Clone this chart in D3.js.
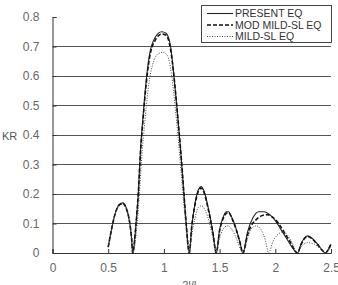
<!DOCTYPE html>
<html><head><meta charset="utf-8">
<script src="https://cdn.jsdelivr.net/npm/d3@7"></script>
<style>body{margin:0;background:#fff}svg{display:block}</style>
</head><body>
<script>
// ---- data ----
const xTicks = [0, 0.5, 1, 1.5, 2, 2.5];
const yTicks = [0, 0.1, 0.2, 0.3, 0.4, 0.5, 0.6, 0.7, 0.8];
const seriesNames = ["PRESENT EQ", "MOD MILD-SL EQ", "MILD-SL EQ"];
const presentX = [0.5,0.53,0.56,0.6,0.63,0.66,0.69,0.71,0.72,0.75,0.77,0.79,0.81,0.84,0.87,0.92,0.98,1.02,1.06,1.09,1.12,1.15,1.18,1.2,1.228,1.25,1.28,1.31,1.335,1.36,1.4,1.44,1.47,1.5,1.53,1.56,1.58,1.61,1.65,1.68,1.71,1.75,1.8,1.85,1.9,1.95,2.0,2.05,2.1,2.15,2.2,2.23,2.26,2.29,2.33,2.38,2.42,2.45,2.48,2.5];
const presentY = [0.02,0.08,0.13,0.165,0.17,0.155,0.11,0.05,0,0.1,0.2,0.35,0.45,0.58,0.67,0.73,0.75,0.745,0.7,0.6,0.48,0.35,0.2,0.1,0,0.09,0.17,0.215,0.225,0.21,0.15,0.07,0,0.08,0.12,0.14,0.14,0.12,0.08,0.04,0,0.07,0.12,0.14,0.14,0.13,0.11,0.08,0.05,0.02,0,0.03,0.05,0.058,0.05,0.03,0.01,0,0.015,0.03];
const modX = [0.5,0.53,0.56,0.6,0.63,0.66,0.69,0.71,0.72,0.75,0.77,0.79,0.81,0.84,0.87,0.92,0.98,1.02,1.06,1.09,1.12,1.15,1.18,1.2,1.228,1.25,1.28,1.31,1.335,1.36,1.4,1.44,1.47,1.5,1.53,1.56,1.58,1.61,1.65,1.68,1.71,1.75,1.78,1.82,1.87,1.93,1.98,2.03,2.08,2.13,2.2,2.23,2.26,2.29,2.33,2.38,2.42,2.45,2.48,2.5];
const modY = [0.02,0.08,0.13,0.163,0.168,0.153,0.11,0.05,0,0.1,0.2,0.34,0.44,0.57,0.66,0.72,0.742,0.738,0.69,0.6,0.48,0.35,0.2,0.1,0,0.09,0.165,0.21,0.22,0.205,0.145,0.068,0,0.075,0.115,0.135,0.137,0.118,0.078,0.04,0,0.06,0.09,0.11,0.125,0.13,0.12,0.1,0.07,0.04,0,0.028,0.048,0.056,0.048,0.028,0.01,0,0.015,0.03];
const mildX = [0.5,0.53,0.56,0.6,0.63,0.66,0.69,0.71,0.72,0.76,0.78,0.8,0.83,0.86,0.9,0.95,0.99,1.03,1.07,1.1,1.13,1.16,1.19,1.228,1.25,1.28,1.31,1.34,1.37,1.41,1.44,1.47,1.5,1.53,1.57,1.61,1.65,1.71,1.75,1.79,1.83,1.87,1.91,1.94,1.98,2.03,2.07,2.11,2.15,2.2,2.23,2.29,2.35,2.41,2.45,2.5];
const mildY = [0.02,0.08,0.13,0.16,0.165,0.15,0.105,0.045,0,0.1,0.2,0.32,0.45,0.56,0.64,0.675,0.68,0.67,0.6,0.5,0.38,0.25,0.12,0,0.06,0.12,0.155,0.16,0.145,0.1,0.05,0,0.05,0.08,0.092,0.08,0.05,0,0.05,0.085,0.092,0.08,0.045,0,0.04,0.065,0.072,0.06,0.035,0,0.02,0.035,0.03,0.012,0,0.02];

// ---- layout ----
const W = 338, H = 285;
const m = {left: 52.5, right: 7, top: 17, bottom: 32};
const svg = d3.select("body").append("svg").attr("width", W).attr("height", H)
  .style("font-family", "'Liberation Sans', Arial, sans-serif");
const x = d3.scaleLinear().domain([0, 2.5]).range([m.left, W - m.right]);
const y = d3.scaleLinear().domain([0, 0.8]).range([H - m.bottom, m.top]);

// gridlines
svg.append("g").selectAll("line").data(yTicks.filter(v => v > 0 && v < 0.8)).join("line")
  .attr("x1", x(0)).attr("x2", x(2.5)).attr("y1", d => y(d)).attr("y2", d => y(d))
  .attr("stroke", "#555").attr("stroke-width", 1).attr("shape-rendering", "crispEdges");

// y axis
const yAxis = d3.axisLeft(y).tickValues(yTicks).tickSize(-4).tickPadding(13)
  .tickFormat(d => d === 0 ? "0" : d3.format(".1f")(d));
const gy = svg.append("g").attr("transform", `translate(${x(0)},0)`).call(yAxis);
gy.select(".domain").attr("stroke", "#333");
gy.selectAll(".tick line").attr("stroke", "#333");
gy.selectAll("text").attr("fill", "#666").style("font-size", "12px");

// x axis
const xAxis = d3.axisBottom(x).tickValues(xTicks).tickSize(-4).tickPadding(10)
  .tickFormat(d => d3.format("")(d));
const gx = svg.append("g").attr("transform", `translate(0,${y(0)})`).call(xAxis);
gx.select(".domain").attr("stroke", "#333");
gx.selectAll(".tick line").attr("stroke", "#333");
gx.selectAll("text").attr("fill", "#666").style("font-size", "12px");

// axis titles
svg.append("text").attr("x", 2).attr("y", y(0.4) + 5).text("KR")
  .attr("fill", "#555").style("font-size", "11px");
svg.append("text").attr("x", 191).attr("y", 289).attr("text-anchor", "middle").text("2l/L")
  .attr("fill", "#666").style("font-size", "11px");

// lines
const line = d3.line().x(d => x(d[0])).y(d => y(d[1])).curve(d3.curveMonotoneX);
const series = [
  {name: seriesNames[0], xs: presentX, ys: presentY, dash: null, w: 1.1, c: "#222"},
  {name: seriesNames[1], xs: modX, ys: modY, dash: "4,2", w: 1.6, c: "#111"},
  {name: seriesNames[2], xs: mildX, ys: mildY, dash: "1,1.5", w: 1, c: "#444"}
];
series.forEach(s => {
  svg.append("path").datum(s.xs.map((v, i) => [v, s.ys[i]]))
    .attr("d", line).attr("fill", "none").attr("stroke", s.c)
    .attr("stroke-width", s.w).attr("stroke-dasharray", s.dash);
});

// legend
const lg = svg.append("g");
lg.append("rect").attr("x", 201.5).attr("y", 5.5).attr("width", 130).attr("height", 37)
  .attr("fill", "#fff").attr("stroke", "#444").attr("stroke-width", 1);
series.forEach((s, i) => {
  const yy = 13.5 + i * 11.5;
  lg.append("line").attr("x1", 207).attr("x2", 233).attr("y1", yy).attr("y2", yy)
    .attr("stroke", s.c).attr("stroke-width", s.w).attr("stroke-dasharray", s.dash);
  lg.append("text").attr("x", 235).attr("y", yy + 3.8).text(s.name)
    .attr("fill", "#333").style("font-size", "10.5px");
});
</script>
</body></html>
